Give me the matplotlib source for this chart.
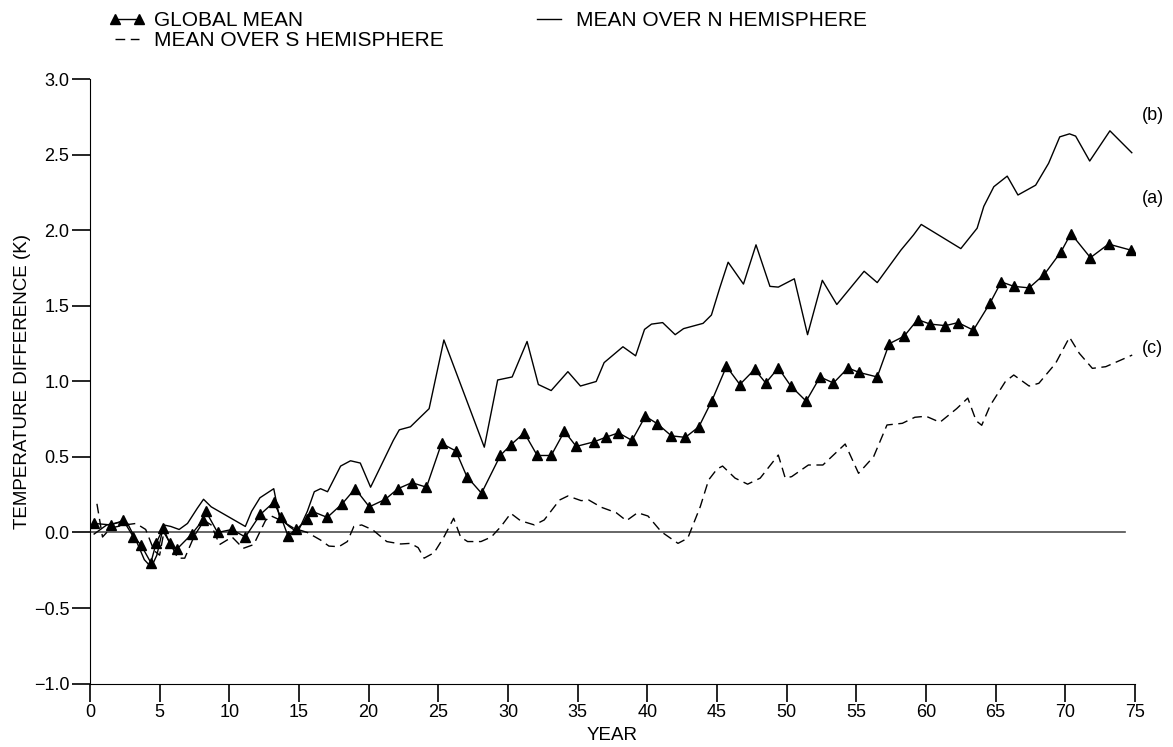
import matplotlib
matplotlib.use('Agg')
import matplotlib.pyplot as plt
import numpy as np

plt.rcParams['font.family'] = ['Liberation Sans', 'DejaVu Sans']

# global mean (triangles)
glob_year = [0.31, 1.51, 2.40, 3.12, 3.65, 4.37, 4.75, 5.27, 5.71, 6.24,
             7.31, 8.08, 8.32, 9.16, 10.19, 11.15, 12.23, 13.19, 13.72, 14.20,
             14.82, 15.59, 15.95, 17.03, 18.10, 19.03, 20.05, 21.2, 22.1, 23.1,
             24.15, 25.23, 26.26, 27.05, 28.1, 29.45, 30.2, 31.17, 32.1, 33.1,
             34.05, 34.9, 36.16, 37.0, 37.93, 38.9, 39.86, 40.72, 41.73, 42.73,
             43.7, 44.62, 45.68, 46.64, 47.7, 48.5, 49.4, 50.3, 51.4, 52.4,
             53.36, 54.4, 55.2, 56.5, 57.36, 58.43, 59.4, 60.3, 61.4, 62.3,
             63.4, 64.6, 65.4, 66.3, 67.4, 68.5, 69.7, 70.4, 71.8, 73.1, 74.7]
glob_val = [0.06, 0.05, 0.08, -0.03, -0.08, -0.20, -0.07, 0.03, -0.07, -0.11,
            -0.01, 0.08, 0.14, 0.00, 0.02, -0.03, 0.12, 0.20, 0.10, -0.02,
            0.02, 0.09, 0.14, 0.10, 0.19, 0.29, 0.17, 0.22, 0.29, 0.33,
            0.30, 0.59, 0.54, 0.37, 0.26, 0.51, 0.58, 0.66, 0.51, 0.51,
            0.67, 0.57, 0.60, 0.63, 0.66, 0.61, 0.77, 0.72, 0.64, 0.63,
            0.70, 0.87, 1.10, 0.98, 1.08, 0.99, 1.09, 0.97, 0.87, 1.03,
            0.99, 1.09, 1.06, 1.03, 1.25, 1.30, 1.41, 1.38, 1.37, 1.39,
            1.34, 1.52, 1.66, 1.63, 1.62, 1.71, 1.86, 1.98, 1.82, 1.91, 1.87]

# northern hemisphere mean (solid)
north_year = [0.3, 1.2, 2.0, 2.7, 3.3, 3.9, 4.4, 4.8, 5.3, 5.8,
              6.4, 7.0, 7.7, 8.15, 8.7, 11.15, 11.6, 12.2, 13.19, 13.6,
              14.3, 14.9, 15.6, 16.1, 16.55, 17.05, 17.99, 18.7, 19.4, 20.14,
              21.77, 22.2, 23.0, 23.5, 24.34, 25.4, 28.3, 29.26, 30.3, 31.37,
              32.18, 33.1, 34.3, 35.2, 36.33, 36.9, 38.25, 39.16, 39.8, 40.3,
              41.1, 42.0, 42.6, 44.0, 44.6, 45.2, 45.8, 46.9, 47.8, 48.8,
              49.4, 50.55, 51.5, 52.56, 53.6, 55.56, 56.5, 58.2, 59.1, 59.66,
              62.5, 63.67, 64.15, 64.87, 65.83, 66.6, 67.87, 68.8, 69.6, 70.3,
              70.74, 71.75, 73.2, 74.77]
north_val = [-0.01, 0.05, 0.065, 0.06, -0.05, -0.18, -0.23, -0.15, 0.05, 0.04,
             0.02, 0.06, 0.16, 0.22, 0.17, 0.04, 0.14, 0.23, 0.29, 0.10,
             0.04, 0.00, 0.14, 0.27, 0.29, 0.27, 0.44, 0.475, 0.46, 0.30,
             0.61, 0.68, 0.70, 0.745, 0.82, 1.275, 0.565, 1.01, 1.03, 1.265,
             0.98, 0.94, 1.065, 0.97, 1.00, 1.125, 1.23, 1.17, 1.345, 1.38,
             1.39, 1.31, 1.35, 1.385, 1.44, 1.62, 1.79, 1.645, 1.905, 1.63,
             1.625, 1.68, 1.31, 1.67, 1.51, 1.73, 1.655, 1.87, 1.97, 2.04,
             1.88, 2.015, 2.16, 2.29, 2.36, 2.235, 2.30, 2.445, 2.62, 2.64,
             2.625, 2.46, 2.66, 2.515]

# southern hemisphere mean (dashed)
south_year = [0.5, 0.9, 1.5, 2.5, 3.3, 4.0, 4.6, 5.0, 5.3, 5.7,
              6.3, 6.8, 7.5, 8.2, 8.7, 9.3, 10.2, 11.0, 11.75, 12.6,
              13.0, 13.7, 14.6, 15.6, 16.55, 17.15, 17.86, 18.47, 18.94, 19.5,
              20.3, 21.3, 22.3, 23.0, 23.55, 23.98, 24.7, 25.4, 26.1, 26.6,
              27.1, 28.06, 28.8, 29.5, 30.2, 30.9, 31.9, 32.6, 33.7, 34.3,
              35.25, 35.8, 36.7, 37.77, 38.5, 39.3, 40.05, 41.0, 42.2, 42.9,
              43.8, 44.4, 45.0, 45.4, 46.3, 47.2, 48.1, 49.4, 49.9, 50.36,
              51.56, 52.6, 54.2, 55.16, 56.24, 57.2, 58.3, 59.2, 60.0, 61.0,
              62.2, 63.0, 63.6, 64.0, 64.6, 65.7, 66.3, 67.4, 68.1, 69.3,
              70.3, 71.0, 71.94, 72.9, 74.8]
south_val = [0.19, -0.03, 0.03, 0.05, 0.06, 0.02, -0.12, -0.15, 0.00, -0.06,
             -0.17, -0.17, -0.02, 0.08, 0.05, -0.08, -0.03, -0.105, -0.08, 0.08,
             0.11, 0.08, 0.03, 0.00, -0.05, -0.09, -0.094, -0.06, 0.04, 0.05,
             0.017, -0.06, -0.076, -0.072, -0.10, -0.17, -0.134, -0.03, 0.094, -0.03,
             -0.06, -0.06, -0.03, 0.04, 0.127, 0.078, 0.05, 0.083, 0.215, 0.242,
             0.211, 0.215, 0.167, 0.131, 0.078, 0.131, 0.109, 0.005, -0.072, -0.038,
             0.171, 0.348, 0.42, 0.44, 0.36, 0.32, 0.36, 0.513, 0.36, 0.37,
             0.447, 0.447, 0.586, 0.392, 0.502, 0.712, 0.723, 0.763, 0.77, 0.73,
             0.82, 0.89, 0.74, 0.71, 0.84, 1.00, 1.043, 0.97, 0.988, 1.12,
             1.293, 1.187, 1.087, 1.098, 1.175]

fig = plt.figure(figsize=(11.73, 7.47), dpi=100)
ax = fig.add_axes([0.0767, 0.085, 0.8909, 0.8086])

ax.axhline(0, xmin=0, xmax=0.99, color='0.3', lw=1.2)
l_glob, = ax.plot(glob_year, glob_val, color='k', lw=1.0, marker='^', markersize=7.5,
                  label='GLOBAL MEAN')
l_north, = ax.plot(north_year, north_val, color='k', lw=1.0, label='MEAN OVER N HEMISPHERE')
l_south, = ax.plot(south_year, south_val, color='k', lw=1.0, dashes=(7, 4),
                   label='MEAN OVER S HEMISPHERE')

ax.set_xlim(0, 75)
ax.set_ylim(-1, 3)
ax.set_xticks(np.arange(0, 76, 5))
ax.set_yticks(np.arange(-1, 3.01, 0.5))
ax.set_yticklabels(['\u22121.0', '\u22120.5', '0.0', '0.5', '1.0', '1.5', '2.0', '2.5', '3.0'])
ax.spines['top'].set_visible(False)
ax.spines['right'].set_visible(False)
ax.tick_params(direction='out', length=13, width=1.2, labelsize=13, pad=2)
ax.set_xlabel('YEAR', fontsize=13.5, labelpad=4)
ax.set_ylabel('TEMPERATURE DIFFERENCE (K)', fontsize=13.5, labelpad=2)

for lab, yv in [('(b)', 2.76), ('(a)', 2.215), ('(c)', 1.22)]:
    ax.text(75.5, yv, lab, fontsize=13, va='center', ha='left', clip_on=False)

fig.legend(handles=[l_glob, l_south, l_north], ncol=2, loc='upper left',
           bbox_to_anchor=(0.083, 1.0), frameon=False, fontsize=15, numpoints=2,
           handlelength=1.75, handletextpad=0.4, columnspacing=4.2,
           labelspacing=0.05, borderaxespad=0.15)

fig.savefig('out.png', dpi=100)
